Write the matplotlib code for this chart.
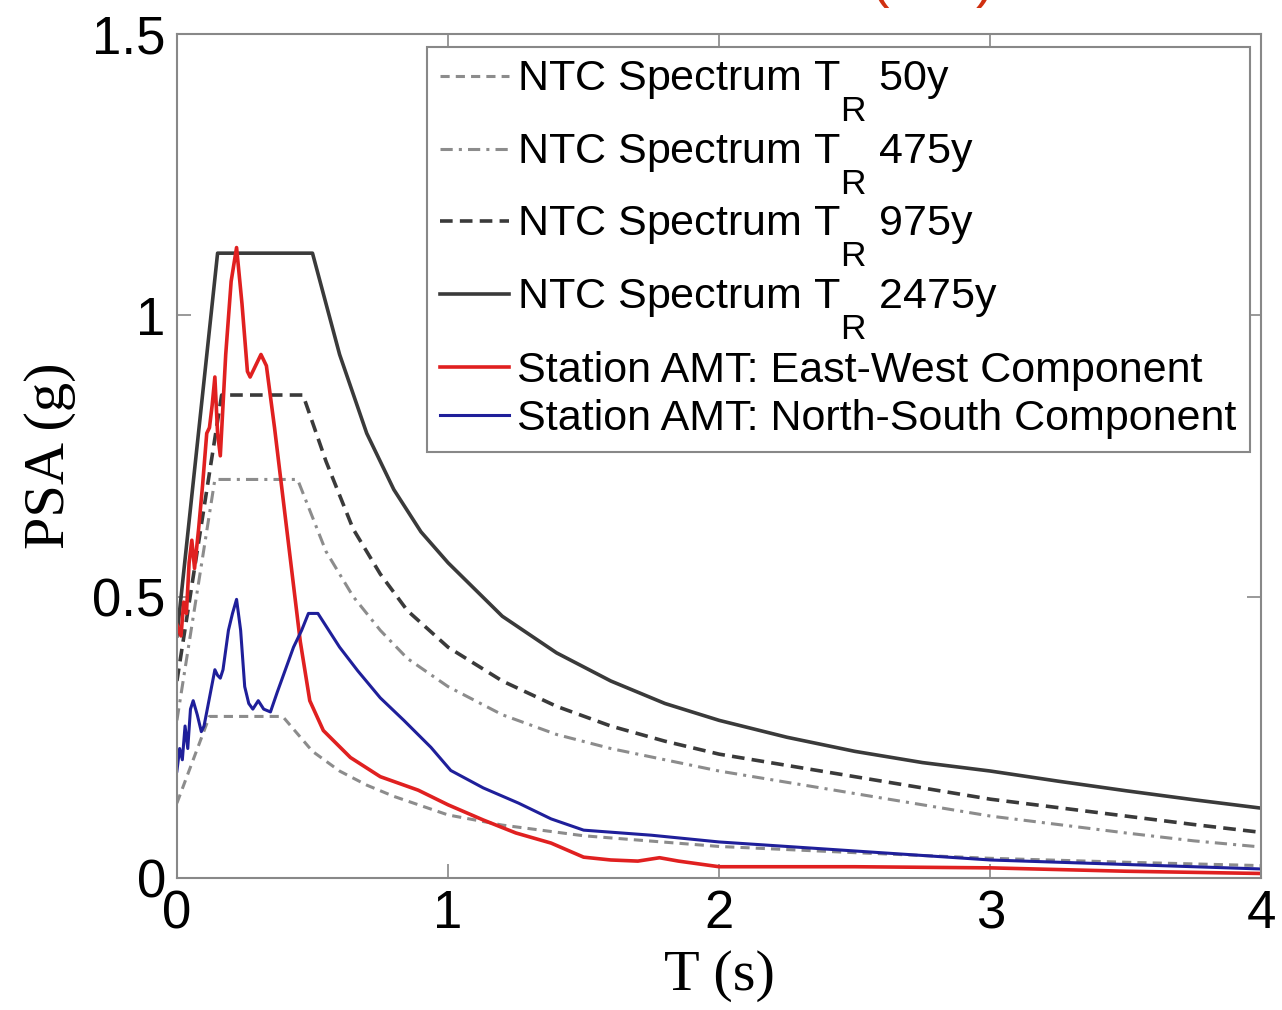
import numpy as np
import matplotlib
matplotlib.use('Agg')
import matplotlib.pyplot as plt
import matplotlib._mathtext as mtext

# pedice R piu' grande e piu' basso, come nella figura originale
mtext.SHRINK_FACTOR = 0.82
mtext.FontConstantsBase.sub1 = 1.35

# periodi (s) e ordinate spettrali (g)
t_2475 = [0, 0.15, 0.50, 0.6, 0.7, 0.8, 0.9, 1.0, 1.2, 1.4, 1.6, 1.8, 2.0,
          2.25, 2.5, 2.75, 3.0, 3.25, 3.5, 3.75, 4.0]
psa_2475 = [0.43, 1.11, 1.11, 0.93, 0.79, 0.69, 0.615, 0.56, 0.465, 0.40, 0.35,
            0.31, 0.28, 0.25, 0.225, 0.205, 0.19, 0.172, 0.155, 0.139, 0.124]

t_975 = [0, 0.165, 0.465, 0.55, 0.65, 0.75, 0.85, 1.0, 1.2, 1.4, 1.6, 1.8, 2.0,
         2.25, 2.5, 2.75, 3.0, 3.25, 3.5, 3.75, 4.0]
psa_975 = [0.35, 0.858, 0.858, 0.74, 0.62, 0.54, 0.475, 0.41, 0.35, 0.305, 0.27,
           0.243, 0.22, 0.20, 0.18, 0.16, 0.14, 0.125, 0.11, 0.095, 0.081]

t_475 = [0, 0.14, 0.445, 0.55, 0.65, 0.75, 0.85, 1.0, 1.2, 1.4, 1.6, 1.8, 2.0,
         2.25, 2.5, 2.75, 3.0, 3.25, 3.5, 3.75, 4.0]
psa_475 = [0.28, 0.708, 0.708, 0.58, 0.50, 0.44, 0.39, 0.34, 0.29, 0.255, 0.23,
           0.21, 0.19, 0.17, 0.15, 0.13, 0.11, 0.095, 0.08, 0.066, 0.055]

t_50 = [0, 0.12, 0.39, 0.5, 0.6, 0.7, 0.8, 1.0, 1.2, 1.5, 2.0, 2.5, 3.0, 3.5, 4.0]
psa_50 = [0.133, 0.287, 0.287, 0.225, 0.19, 0.165, 0.145, 0.112, 0.094, 0.075,
          0.056, 0.045, 0.035, 0.028, 0.022]

t_ew = [0, 0.015, 0.025, 0.035, 0.045, 0.055, 0.065, 0.08, 0.095, 0.11, 0.12,
        0.13, 0.14, 0.15, 0.16, 0.18, 0.20, 0.22, 0.24, 0.26, 0.27, 0.29, 0.31,
        0.33, 0.36, 0.40, 0.455, 0.49, 0.54, 0.64, 0.75, 0.89, 1.0, 1.13, 1.25,
        1.38, 1.5, 1.6, 1.7, 1.78, 1.85, 2.0, 2.5, 3.0, 3.5, 4.0]
psa_ew = [0.45, 0.43, 0.49, 0.47, 0.56, 0.60, 0.55, 0.62, 0.70, 0.79, 0.80,
          0.84, 0.89, 0.79, 0.75, 0.93, 1.06, 1.12, 1.02, 0.90, 0.89, 0.91, 0.93,
          0.91, 0.80, 0.64, 0.42, 0.315, 0.262, 0.214, 0.18, 0.156, 0.13, 0.103,
          0.08, 0.062, 0.037, 0.032, 0.03, 0.036, 0.03, 0.02, 0.02, 0.018, 0.012,
          0.008]

t_ns = [0, 0.01, 0.02, 0.03, 0.04, 0.05, 0.06, 0.075, 0.09, 0.10, 0.12, 0.14,
        0.15, 0.16, 0.17, 0.19, 0.205, 0.22, 0.235, 0.25, 0.265, 0.28, 0.30, 0.32,
        0.345, 0.37, 0.40, 0.43, 0.46, 0.485, 0.52, 0.56, 0.6, 0.667, 0.75, 0.837,
        0.937, 1.01, 1.13, 1.26, 1.38, 1.5, 1.75, 2.0, 2.5, 3.0, 3.5, 4.0]
psa_ns = [0.19, 0.23, 0.21, 0.27, 0.23, 0.30, 0.315, 0.29, 0.26, 0.27, 0.32, 0.37,
          0.36, 0.355, 0.37, 0.44, 0.47, 0.495, 0.44, 0.34, 0.31, 0.30, 0.315, 0.30,
          0.295, 0.33, 0.37, 0.41, 0.44, 0.47, 0.47, 0.44, 0.41, 0.368, 0.32, 0.28,
          0.232, 0.191, 0.16, 0.133, 0.105, 0.085, 0.076, 0.064, 0.048, 0.032,
          0.024, 0.016]

labels = [r'NTC Spectrum $\mathregular{T_R}$ 50y',
          r'NTC Spectrum $\mathregular{T_R}$ 475y',
          r'NTC Spectrum $\mathregular{T_R}$ 975y',
          r'NTC Spectrum $\mathregular{T_R}$ 2475y',
          'Station AMT: East-West Component',
          'Station AMT: North-South Component']

plt.rcParams['font.family'] = ['Liberation Sans', 'DejaVu Sans']
plt.rcParams['mathtext.fontset'] = 'custom'
plt.rcParams['mathtext.rm'] = 'Liberation Sans'

fig = plt.figure(figsize=(12.82, 10.10), dpi=100)
ax = fig.add_axes([0.138, 0.1307, 0.846, 0.836])

ax.plot(t_50, psa_50, color='#8c8c8c', lw=2.2, ls=(0, (3, 2)), label=labels[0])
ax.plot(t_475, psa_475, color='#8c8c8c', lw=2.2, ls=(0, (4, 2, 1, 2)), label=labels[1])
ax.plot(t_975, psa_975, color='#3a3a3a', lw=2.6, ls=(0, (3.5, 2)), label=labels[2])
ax.plot(t_2475, psa_2475, color='#3a3a3a', lw=2.6, label=labels[3])
ax.plot(t_ew, psa_ew, color='#e02020', lw=2.6, label=labels[4])
ax.plot(t_ns, psa_ns, color='#1f1f9a', lw=2.2, label=labels[5])

ax.set_xlim(0, 4)
ax.set_ylim(0, 1.5)
ax.set_xticks([0, 1, 2, 3, 4])
ax.set_yticks([0, 0.5, 1, 1.5])
ax.set_yticklabels(['0', '0.5', '1', '1.5'])
ax.tick_params(direction='in', length=10, width=1.2, color='#888888',
               top=True, right=True, labelsize=38, pad=8)
for s in ax.spines.values():
    s.set_color('#888888')
    s.set_linewidth(1.5)

ax.set_xlabel('T (s)', fontsize=42, family='Liberation Serif', labelpad=8)
ax.set_ylabel('PSA (g)', fontsize=42, family='Liberation Serif', labelpad=12)

leg = ax.legend(loc='upper right', bbox_to_anchor=(0.989, 0.984), borderaxespad=0,
                fontsize=31, handlelength=1.6, handletextpad=0.2, labelspacing=0.2,
                fancybox=False, framealpha=1, borderpad=0.3)
leg.get_frame().set_edgecolor('#888888')
leg.get_frame().set_linewidth(1.5)

# parentesi rosse tagliate sul bordo superiore
fig.text(0.686, 1.004, '(', color='#d03010', fontsize=40, va='baseline', ha='center')
fig.text(0.768, 1.004, ')', color='#d03010', fontsize=40, va='baseline', ha='center')

fig.savefig('out.png', dpi=100)
